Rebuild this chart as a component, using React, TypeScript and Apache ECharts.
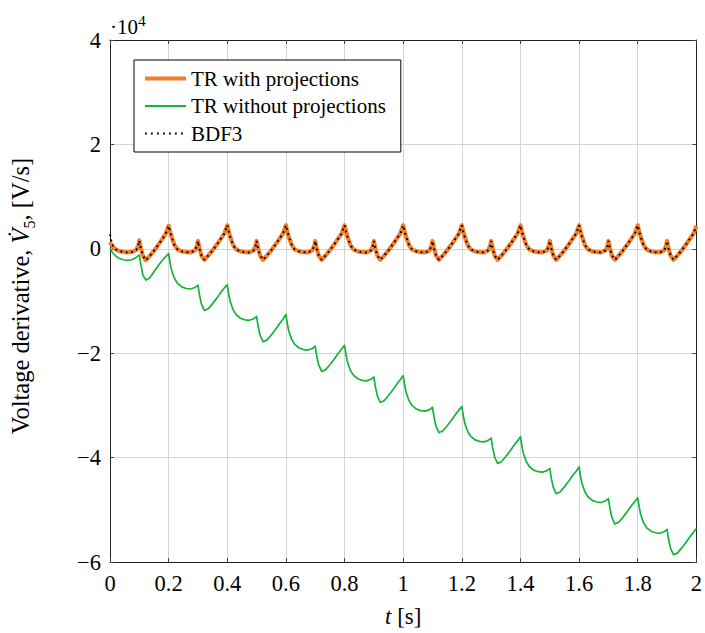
import React, { useEffect, useRef } from "react";
import * as echarts from "echarts";

// time axis samples [s]
const tSec = [
  0, 0.005, 0.01, 0.02, 0.03, 0.045, 0.06, 0.075, 0.09, 0.097, 0.1, 0.105, 0.112, 0.122, 0.135, 0.15, 0.165, 0.18, 0.19,
  0.2, 0.205, 0.21, 0.22, 0.23, 0.245, 0.26, 0.275, 0.29, 0.297, 0.3, 0.305, 0.312, 0.322, 0.335, 0.35, 0.365, 0.38, 0.39,
  0.4, 0.405, 0.41, 0.42, 0.43, 0.445, 0.46, 0.475, 0.49, 0.497, 0.5, 0.505, 0.512, 0.522, 0.535, 0.55, 0.565, 0.58, 0.59,
  0.6, 0.605, 0.61, 0.62, 0.63, 0.645, 0.66, 0.675, 0.69, 0.697, 0.7, 0.705, 0.712, 0.722, 0.735, 0.75, 0.765, 0.78, 0.79,
  0.8, 0.805, 0.81, 0.82, 0.83, 0.845, 0.86, 0.875, 0.89, 0.897, 0.9, 0.905, 0.912, 0.922, 0.935, 0.95, 0.965, 0.98, 0.99,
  1.0, 1.005, 1.01, 1.02, 1.03, 1.045, 1.06, 1.075, 1.09, 1.097, 1.1, 1.105, 1.112, 1.122, 1.135, 1.15, 1.165, 1.18, 1.19,
  1.2, 1.205, 1.21, 1.22, 1.23, 1.245, 1.26, 1.275, 1.29, 1.297, 1.3, 1.305, 1.312, 1.322, 1.335, 1.35, 1.365, 1.38, 1.39,
  1.4, 1.405, 1.41, 1.42, 1.43, 1.445, 1.46, 1.475, 1.49, 1.497, 1.5, 1.505, 1.512, 1.522, 1.535, 1.55, 1.565, 1.58, 1.59,
  1.6, 1.605, 1.61, 1.62, 1.63, 1.645, 1.66, 1.675, 1.69, 1.697, 1.7, 1.705, 1.712, 1.722, 1.735, 1.75, 1.765, 1.78, 1.79,
  1.8, 1.805, 1.81, 1.82, 1.83, 1.845, 1.86, 1.875, 1.89, 1.897, 1.9, 1.905, 1.912, 1.922, 1.935, 1.95, 1.965, 1.98, 1.99,
  2.0,
];

// TR with projections [V/s]
const trWithProj = [
  1300, 800, 400, -100, -400, -600, -700, -600, -200, 700, 1600, 200, -1300, -2200, -1400, -400, 800, 2000, 2900,
  4400, 3300, 2300, 700, -100, -500, -650, -700, -300, 600, 1500, 100, -1300, -2100, -1300, -300, 850, 2100, 2900,
  4500, 3300, 2300, 700, -100, -500, -650, -700, -300, 600, 1500, 100, -1300, -2100, -1300, -300, 850, 2100, 2900,
  4500, 3300, 2300, 700, -100, -500, -650, -700, -300, 600, 1500, 100, -1300, -2100, -1300, -300, 850, 2100, 2900,
  4500, 3300, 2300, 700, -100, -500, -650, -700, -300, 600, 1500, 100, -1300, -2100, -1300, -300, 850, 2100, 2900,
  4500, 3300, 2300, 700, -100, -500, -650, -700, -300, 600, 1500, 100, -1300, -2100, -1300, -300, 850, 2100, 2900,
  4500, 3300, 2300, 700, -100, -500, -650, -700, -300, 600, 1500, 100, -1300, -2100, -1300, -300, 850, 2100, 2900,
  4500, 3300, 2300, 700, -100, -500, -650, -700, -300, 600, 1500, 100, -1300, -2100, -1300, -300, 850, 2100, 2900,
  4500, 3300, 2300, 700, -100, -500, -650, -700, -300, 600, 1500, 100, -1300, -2100, -1300, -300, 850, 2100, 2900,
  4500, 3300, 2300, 700, -100, -500, -650, -700, -300, 600, 1500, 100, -1300, -2100, -1300, -300, 850, 2100, 2900,
  4400,
];

// TR without projections [V/s]
const trWithoutProj = [
  0, -400, -800, -1400, -1800, -2100, -2200, -2100, -1600, -1300, -1200, -3000, -5000, -6000, -5600, -4400, -3200, -2100, -1500,
  -900, -2700, -4100, -5700, -6600, -7300, -7600, -7700, -7400, -7100, -6950, -8800, -10600, -11800, -11500, -10500, -9400, -8200, -7500,
  -6900, -8700, -10100, -11700, -12600, -13300, -13600, -13700, -13400, -13100, -12950, -14800, -16600, -17800, -17500, -16500, -15400, -14200, -13500,
  -12600, -14400, -15800, -17400, -18300, -19000, -19300, -19400, -19100, -18800, -18650, -20500, -22300, -23500, -23200, -22200, -21100, -19900, -19200,
  -18500, -20300, -21700, -23300, -24200, -24900, -25200, -25300, -25000, -24700, -24550, -26400, -28200, -29400, -29100, -28100, -27000, -25800, -25100,
  -24300, -26100, -27500, -29100, -30000, -30700, -31000, -31100, -30800, -30500, -30350, -32200, -34000, -35200, -34900, -33900, -32800, -31600, -30900,
  -30200, -32000, -33400, -35000, -35900, -36600, -36900, -37000, -36700, -36400, -36250, -38100, -39900, -41100, -40800, -39800, -38700, -37500, -36800,
  -36000, -37800, -39200, -40800, -41700, -42400, -42700, -42800, -42500, -42200, -42050, -43900, -45700, -46900, -46600, -45600, -44500, -43300, -42600,
  -41800, -43600, -45000, -46600, -47500, -48200, -48500, -48600, -48300, -48000, -47850, -49700, -51500, -52700, -52400, -51400, -50300, -49100, -48400,
  -47700, -49500, -50900, -52500, -53400, -54100, -54400, -54500, -54200, -53900, -53750, -55600, -57400, -58600, -58300, -57300, -56200, -55000, -54300,
  -53600,
];

// BDF3 [V/s]
const bdf3 = [
  2800, 1400, 600, -100, -400, -600, -700, -600, -200, 700, 1600, 200, -1300, -2200, -1400, -400, 800, 2000, 2900,
  4400, 3300, 2300, 700, -100, -500, -650, -700, -300, 600, 1500, 100, -1300, -2100, -1300, -300, 850, 2100, 2900,
  4500, 3300, 2300, 700, -100, -500, -650, -700, -300, 600, 1500, 100, -1300, -2100, -1300, -300, 850, 2100, 2900,
  4500, 3300, 2300, 700, -100, -500, -650, -700, -300, 600, 1500, 100, -1300, -2100, -1300, -300, 850, 2100, 2900,
  4500, 3300, 2300, 700, -100, -500, -650, -700, -300, 600, 1500, 100, -1300, -2100, -1300, -300, 850, 2100, 2900,
  4500, 3300, 2300, 700, -100, -500, -650, -700, -300, 600, 1500, 100, -1300, -2100, -1300, -300, 850, 2100, 2900,
  4500, 3300, 2300, 700, -100, -500, -650, -700, -300, 600, 1500, 100, -1300, -2100, -1300, -300, 850, 2100, 2900,
  4500, 3300, 2300, 700, -100, -500, -650, -700, -300, 600, 1500, 100, -1300, -2100, -1300, -300, 850, 2100, 2900,
  4500, 3300, 2300, 700, -100, -500, -650, -700, -300, 600, 1500, 100, -1300, -2100, -1300, -300, 850, 2100, 2900,
  4500, 3300, 2300, 700, -100, -500, -650, -700, -300, 600, 1500, 100, -1300, -2100, -1300, -300, 850, 2100, 2900,
  4400,
];

const seriesNames = ["TR with projections", "TR without projections", "BDF3"];
const yTickLabels: Record<string, string> = {
  "-60000": "\u22126",
  "-40000": "\u22124",
  "-20000": "\u22122",
  "0": "0",
  "20000": "2",
  "40000": "4",
};
const xTickLabels: Record<string, string> = {
  "0": "0", "0.2": "0.2", "0.4": "0.4", "0.6": "0.6", "0.8": "0.8", "1": "1",
  "1.2": "1.2", "1.4": "1.4", "1.6": "1.6", "1.8": "1.8", "2": "2",
};
const yTitle = "Voltage derivative, {i|V\u0307}{s|5}, [V/s]";
const xTitle = "{i|t} [s]";

const FONT = "Liberation Serif, DejaVu Serif, serif";
const ORANGE = "#F47D2C";
const GREEN = "#14B33A";
const TICK_FS = 22.5;
const NAME_FS = 23;
const YNAME_FS = 24.5;

function pairs(vals: number[]) {
  return tSec.map((t, i) => [t, vals[i]]);
}

export default function App() {
  const ref = useRef<HTMLDivElement>(null);
  useEffect(() => {
    if (!ref.current) return;
    const chart = echarts.init(ref.current, undefined, { renderer: "svg" });
    const xLabelFmt = (v: number) => xTickLabels[String(Math.round(v * 10) / 10)] ?? "";
    const yLabelFmt = (v: number) => yTickLabels[String(Math.round(v))] ?? "";
    chart.setOption({
      animation: false,
      backgroundColor: "#fff",
      textStyle: { fontFamily: FONT },
      grid: { left: 110, right: 5, top: 40, bottom: 66, containLabel: false },
      legend: {
        orient: "vertical",
        left: 134,
        top: 60,
        padding: [8, 15, 8, 9],
        itemGap: 6.5,
        itemWidth: 41,
        itemHeight: 14,
        backgroundColor: "#fff",
        borderColor: "#000",
        borderWidth: 1,
        borderRadius: 0,
        itemStyle: { opacity: 0 },
        textStyle: { fontFamily: FONT, fontSize: 21, color: "#000" },
        data: [
          { name: seriesNames[0], lineStyle: { width: 4, color: ORANGE } },
          { name: seriesNames[1], lineStyle: { width: 1.8, color: GREEN } },
          { name: seriesNames[2], lineStyle: { width: 2, color: "#000", type: [1.8, 4.2] } },
        ],
      },
      xAxis: [
        {
          type: "value",
          min: 0,
          max: 2,
          interval: 0.2,
          position: "bottom",
          name: xTitle,
          nameLocation: "middle",
          nameGap: 43,
          nameTextStyle: {
            fontFamily: FONT,
            fontSize: NAME_FS,
            color: "#000",
            rich: { i: { fontFamily: FONT, fontSize: NAME_FS, fontStyle: "italic", color: "#000" } },
          },
          axisLine: { show: true, onZero: false, lineStyle: { color: "#222", width: 1 } },
          axisTick: { show: true, inside: true, length: 4, lineStyle: { color: "#444" } },
          axisLabel: { formatter: xLabelFmt, fontFamily: FONT, fontSize: TICK_FS, color: "#000", margin: 10 },
          splitLine: { show: true, lineStyle: { color: "#d4d4d4", width: 1 } },
        },
        {
          type: "value",
          min: 0,
          max: 2,
          interval: 0.2,
          position: "top",
          axisLine: { show: true, onZero: false, lineStyle: { color: "#222", width: 1 } },
          axisTick: { show: true, inside: true, length: 4, lineStyle: { color: "#444" } },
          axisLabel: { show: false },
          splitLine: { show: false },
        },
      ],
      yAxis: [
        {
          type: "value",
          min: -60000,
          max: 40000,
          interval: 20000,
          position: "left",
          axisLine: { show: true, onZero: false, lineStyle: { color: "#222", width: 1 } },
          axisTick: { show: true, inside: true, length: 4, lineStyle: { color: "#444" } },
          axisLabel: { formatter: yLabelFmt, fontFamily: FONT, fontSize: TICK_FS, color: "#000", margin: 9 },
          splitLine: { show: true, lineStyle: { color: "#d4d4d4", width: 1 } },
        },
        {
          type: "value",
          min: -60000,
          max: 40000,
          interval: 20000,
          position: "right",
          axisLine: { show: true, onZero: false, lineStyle: { color: "#222", width: 1 } },
          axisTick: { show: true, inside: true, length: 4, lineStyle: { color: "#444" } },
          axisLabel: { show: false },
          splitLine: { show: false },
        },
      ],
      graphic: [
        {
          type: "text",
          left: 110,
          top: 16,
          style: { text: "\u00b710", fontFamily: FONT, fontSize: 21, fill: "#000" },
        },
        {
          type: "text",
          left: 138,
          top: 12,
          style: { text: "4", fontFamily: FONT, fontSize: 15.5, fill: "#000" },
        },
        {
          type: "text",
          x: 20,
          y: 296,
          rotation: Math.PI / 2,
          style: {
            text: yTitle,
            fontFamily: FONT,
            fontSize: YNAME_FS,
            fill: "#000",
            align: "center",
            verticalAlign: "middle",
            rich: {
              i: { fontFamily: FONT, fontSize: YNAME_FS, fontStyle: "italic", fill: "#000" },
              s: { fontFamily: FONT, fontSize: 16, fill: "#000", verticalAlign: "bottom", padding: [0, 0, -5, 0] },
            },
          },
        },
      ],
      series: [
        {
          name: seriesNames[0],
          type: "line",
          data: pairs(trWithProj),
          symbol: "none",
          silent: true,
          z: 2,
          itemStyle: { color: ORANGE },
          lineStyle: { color: ORANGE, width: 4.2, join: "round" },
        },
        {
          name: seriesNames[1],
          type: "line",
          data: pairs(trWithoutProj),
          symbol: "none",
          silent: true,
          z: 3,
          itemStyle: { color: GREEN },
          lineStyle: { color: GREEN, width: 1.7, join: "round" },
        },
        {
          name: seriesNames[2],
          type: "line",
          data: pairs(bdf3),
          symbol: "none",
          silent: true,
          z: 4,
          itemStyle: { color: "#000" },
          lineStyle: { color: "#000", width: 2, type: [1.8, 3.6], cap: "butt" },
        },
      ],
    });
    return () => chart.dispose();
  }, []);
  return (
    <div
      ref={ref}
      style={{ position: "fixed", left: 0, top: 0, width: 705, height: 633, background: "#fff" }}
    />
  );
}
